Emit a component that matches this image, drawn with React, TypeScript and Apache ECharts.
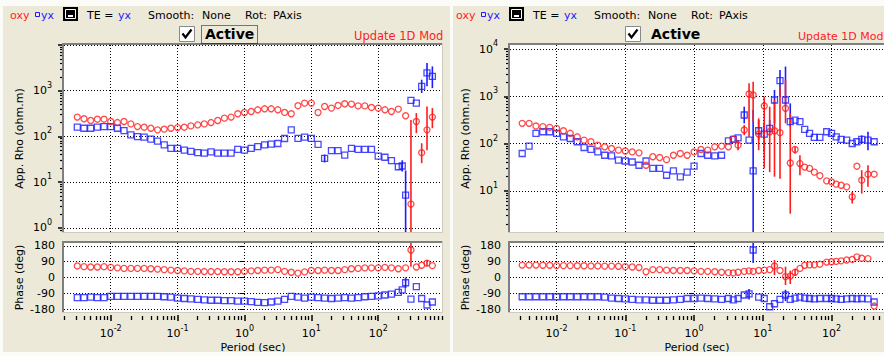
import React, { useEffect, useRef } from "react";
import * as echarts from "echarts";

// ---------------- data ----------------
// Left station
const leftPeriods = [
  0.00316, 0.00398, 0.00501, 0.00631, 0.00794, 0.01, 0.0126, 0.0158, 0.02, 0.0251,
  0.0316, 0.0398, 0.0501, 0.0631, 0.0794, 0.1, 0.126, 0.158, 0.2, 0.251,
  0.316, 0.398, 0.501, 0.631, 0.794, 1, 1.26, 1.58, 2.0, 2.51,
  3.16, 3.98, 5.01, 6.31, 7.94, 10, 12.6, 15.8, 20, 25.1,
  31.6, 39.8, 50.1, 63.1, 79.4, 100, 126, 158, 200, 229,
  257, 309, 372, 447, 537, 646,
];
const leftRhoXY = [
  265, 243, 223, 238, 238, 212, 201, 212, 188, 164,
  159, 151, 139, 144, 151, 156, 159, 170, 179, 188,
  201, 223, 251, 265, 313, 334, 351, 382, 402, 402,
  382, 335, 313, 470, 535, 535, 334, 452, 416, 476,
  518, 510, 465, 465, 430, 416, 382, 351, 396, null,
  283, 3.3, 212, 44, 139, 265,
];
const leftRhoYX = [
  159, 151, 151, 159, 164, 164, 151, 134, 108, 99,
  96, 87, 79, 65, 55, 55, 50, 47, 44, 43,
  46, 43, 43, 43, 52, 50, 55, 60, 65, 68,
  70, 90, 139, 91, 96, 91, 67, 33, 49, 49,
  39, 55, 52, 52, 52, 37, 35, 29.5, 21.7, 22.5,
  5.2, 612, 537, 1245, 2450, 2050,
];
const leftPhaseXY = [
  66, 62, 60, 60, 62, 58, 55, 52, 52, 52,
  52, 50, 48, 45, 42, 40, 38, 35, 35, 34,
  34, 34, 33, 33, 33, 35, 38, 40, 42, 42,
  45, 35, 30, 25, 32, 40, 40, 42, 40, 40,
  45, 50, 52, 55, 55, 55, 58, 55, 50, null,
  55, 157, 60, 70, 82, 68,
];
const leftPhaseYX = [
  -115, -115, -112, -115, -115, -108, -108, -108, -108, -108,
  -108, -108, -108, -110, -112, -118, -120, -122, -125, -128,
  -130, -130, -132, -132, -135, -135, -138, -142, -144, -140,
  -135, -125, -108, -112, -118, -112, -115, -118, -120, -118,
  -115, -118, -115, -110, -108, -105, -100, -95, -85, -71,
  -30, -123, -52, -120, -157, -140,
];
// error bars: [period, low, high]
const leftRhoXYErr = [[309, 0.5, 229], [372, 118, 324], [447, 26, 71], [537, 50, 452], [646, 151, 416]];
const leftRhoYXErr = [[15.8, 27, 40], [229, 17, 30], [257, 0.5, 18], [447, 890, 1740], [537, 1245, 4050], [646, 1140, 3400]];
const leftPhaseXYErr = [[309, 62, 200], [537, 65, 100]];
const leftPhaseYXErr = [[257, -60, 0]];

// Right station
const rightPeriods = [
  0.00316, 0.00398, 0.00501, 0.00631, 0.00794, 0.01, 0.0126, 0.0158, 0.02, 0.0251,
  0.0316, 0.0398, 0.0501, 0.0631, 0.0794, 0.1, 0.126, 0.158, 0.2, 0.251,
  0.316, 0.398, 0.501, 0.631, 0.794, 1, 1.26, 1.58, 2.0, 2.51,
  3.16, 3.72, 4.37, 5.37, 6.31, 7.24, 8.71, 10.5, 12.6, 14.8,
  17.8, 21.4, 25.1, 29.5, 34.7, 40.7, 47.9, 56.2, 67.6, 85.1,
  100, 117, 138, 166, 200, 234, 275, 339, 417,
];
const rightRhoXY = [
  270, 270, 237, 230, 222, 211, 188, 166, 140, 119,
  110, 93, 86, 79, 73, 70, 67, 64, 35, 53,
  51, 46, 57, 62, 57, 67, 75.5, 73, 86, 89,
  86, 126, 93, 195, 1130, 1076, 160, 628, 179, 188,
  171, 561, 39, 75.5, 38, 32, 30, 25, 21, 16.3,
  15.5, 13.9, 13.2, 12.2, 7.5, 33.4, 16.9, 22.6, 22.6,
];
const rightRhoYX = [
  62, 89, 166, 179, 179, 166, 140, 129, 110, 83,
  75.5, 67, 57, 55, 45, 43, 41, 35, 43, 30,
  30, 21.5, 26.6, 19.8, 25, 33.4, 62, 57, 55, 57,
  115, 123, 133, 405, 119, 26.6, 188, 160, 211, 843,
  2167, 843, 292, 317, 292, 201, 166, 136, 136, 179,
  166, 140, 123, 119, 101, 110, 123, 119, 110,
];
const rightPhaseXY = [
  71, 71, 71, 70, 70, 68, 68, 68, 67, 67,
  66, 66, 65, 65, 64, 62, 60, 57, 33, 45,
  45, 42, 40, 40, 40, 38, 35, 35, 33, 30,
  28, 26, 30, 35, 38, 35, 40, 42, 45, 66,
  40, 5, 8, 30, 52, 70, 72, 72, 76, 88,
  90, 92, 95, 100, 103, 118, 110, 108, -163,
];
const rightPhaseYX = [
  -110, -110, -110, -110, -110, -110, -110, -110, -110, -110,
  -110, -110, -112, -118, -120, -122, -125, -128, -128, -130,
  -130, -130, -128, -125, -120, -120, -118, -120, -122, -125,
  -120, -128, -120, -100, -94, 157, -112, -120, -167, -150,
  -125, -100, -125, -118, -112, -118, -120, -122, -120, -120,
  -120, -122, -125, -122, -120, -122, -120, -122, -140,
];
const rightRhoXYErr = [
  [4.37, 73, 119], [5.37, 152, 248], [6.31, 140, 1900], [7.24, 292, 2060], [8.71, 73, 344],
  [10.5, 30, 990], [12.6, 25, 607], [14.8, 20, 843], [17.8, 18, 1615], [21.4, 270, 2240],
  [25.1, 3.3, 440], [29.5, 62, 86], [34.7, 21.5, 57], [200, 5.4, 9.5], [275, 8.8, 27.5], [339, 12.2, 35],
];
const rightRhoYXErr = [
  [5.37, 270, 607], [7.24, 1, 517], [8.71, 119, 317], [10.5, 67, 270], [12.6, 166, 317],
  [14.8, 270, 1374], [17.8, 990, 3650], [21.4, 607, 4300], [25.1, 228, 716], [275, 100, 150], [339, 73, 179],
];
const rightPhaseXYErr = [[14.8, 14, 100], [21.4, -43, 62], [25.1, -37, 39], [29.5, 10, 50]];
const rightPhaseYXErr = [[6.31, -125, -65], [7.24, 83, 210], [21.4, -135, -70]];

// tick labels
const periodDecades = [-2, -1, 0, 1, 2];
const phaseTicks = [-180, -90, 0, 90, 180];
const rhoDecadesLeft = [0, 1, 2, 3, 4];
const rhoDecadesRight = [1, 2, 3, 4];

// ---------------- styling ----------------
const FONT = "DejaVu Sans";
const RED = "#ff1c1c";
const BLUE = "#1c1cff";
const BG = "#ECE9D8";
const DOT = [1, 2];

const panels = [
  {
    left: 64, dx: 0, focus: true, updFont: 11.5, updX: 354,
    periods: leftPeriods, rhoXY: leftRhoXY, rhoYX: leftRhoYX, phaseXY: leftPhaseXY, phaseYX: leftPhaseYX,
    rhoXYErr: leftRhoXYErr, rhoYXErr: leftRhoYXErr, phaseXYErr: leftPhaseXYErr, phaseYXErr: leftPhaseYXErr,
    xMin: 0.002, xMax: 900, rhoMin: 0.81, rhoMax: 10000, rhoDecades: rhoDecadesLeft,
  },
  {
    left: 510, dx: 446, focus: false, updFont: 11, updX: 798,
    periods: rightPeriods, rhoXY: rightRhoXY, rhoYX: rightRhoYX, phaseXY: rightPhaseXY, phaseYX: rightPhaseYX,
    rhoXYErr: rightRhoXYErr, rhoYXErr: rightRhoYXErr, phaseXYErr: rightPhaseXYErr, phaseYXErr: rightPhaseYXErr,
    xMin: 0.0021, xMax: 580, rhoMin: 1.35, rhoMax: 12300, rhoDecades: rhoDecadesRight,
  },
];

const PW = 378;
const RHO_TOP = 45, RHO_H = 187;
const PH_TOP = 243, PH_H = 69;

function minorLogTicks(lo: number, hi: number) {
  const out: number[] = [];
  for (let n = Math.floor(lo); n <= Math.ceil(hi); n++) {
    for (let k = 2; k <= 9; k++) {
      const v = n + Math.log10(k);
      if (v >= lo && v <= hi) out.push(v);
    }
  }
  return out;
}

const powRich = {
  b: { fontSize: 11, fontFamily: FONT, color: "#000", lineHeight: 19 },
  s: { fontSize: 8, fontFamily: FONT, color: "#000", lineHeight: 9, verticalAlign: "top" },
};
const powLabel = (v: number) => `{b|10}{s|${Math.round(Math.log10(v))}}`;

const errSeries = (data: number[][], xi: number, yi: number, color: string) => ({
  type: "custom",
  xAxisIndex: xi,
  yAxisIndex: yi,
  data,
  clip: true,
  silent: true,
  encode: { x: 0, y: [1, 2] },
  renderItem: (_p: any, api: any) => {
    const a = api.coord([api.value(0), api.value(1)]);
    const b = api.coord([api.value(0), api.value(2)]);
    return {
      type: "line",
      shape: { x1: a[0], y1: a[1], x2: b[0], y2: b[1] },
      style: { stroke: color, lineWidth: 1.6 },
    };
  },
});

const markSeries = (periods: number[], vals: (number | null)[], xi: number, yi: number, color: string, sym: string) => ({
  type: "scatter",
  xAxisIndex: xi,
  yAxisIndex: yi,
  data: periods.map((t, i) => [t, vals[i]]).filter((d) => d[1] !== null && d[1] !== undefined),
  symbol: sym,
  symbolSize: 6,
  clip: true,
  silent: true,
  itemStyle: { color: "rgba(0,0,0,0)", borderColor: color, borderWidth: 1.3 },
});

function txt(x: number, y: number, text: string, fill: string, font: string) {
  return { type: "text", z: 60, style: { x, y, text, fill, font, align: "left", verticalAlign: "middle" } };
}

function headerGraphics(dx: number, focus: boolean, updFont: number, updX: number) {
  const f = `11px ${FONT}`;
  const els: any[] = [
    txt(10 + dx, 15, "oxy", RED, f),
    { type: "rect", z: 60, shape: { x: 35.5 + dx, y: 12.5, width: 4, height: 4 }, style: { fill: "none", stroke: BLUE, lineWidth: 1 } },
    txt(41 + dx, 15, "yx", BLUE, f),
    { type: "rect", z: 60, shape: { x: 63 + dx, y: 7, width: 15, height: 14 }, style: { fill: "#000" } },
    { type: "rect", z: 61, shape: { x: 65.5 + dx, y: 9.5, width: 10, height: 9 }, style: { fill: "#000", stroke: "#fff", lineWidth: 1 } },
    { type: "rect", z: 62, shape: { x: 68 + dx, y: 15, width: 5, height: 2 }, style: { fill: "#fff" } },
    txt(87 + dx, 15, "TE =", "#000", f),
    txt(118 + dx, 15, "yx", BLUE, f),
    txt(148 + dx, 15, "Smooth:", "#000", f),
    txt(202 + dx, 15, "None", "#000", f),
    txt(245 + dx, 15, "Rot:", "#000", f),
    txt(273 + dx, 15, "PAxis", "#000", f),
    { type: "rect", z: 60, shape: { x: 179.5 + dx, y: 26.5, width: 15, height: 15 }, style: { fill: "#fff", stroke: "#8a8a8a", lineWidth: 1 } },
    {
      type: "polyline", z: 61,
      shape: { points: [[182.5 + dx, 33.5], [185.5 + dx, 37.5], [191.5 + dx, 29.5]] },
      style: { stroke: "#000", lineWidth: 2.2, fill: "none" },
    },
    txt(205 + dx, 34, "Active", "#000", `bold 14px ${FONT}`),
    txt(updX, 36, "Update 1D Mod", RED, `${updFont}px ${FONT}`),
  ];
  if (focus) {
    els.push({
      type: "rect", z: 61, shape: { x: 201.5 + dx, y: 25.5, width: 56, height: 18 },
      style: { fill: "none", stroke: "#000", lineWidth: 1, lineDash: [1, 1] },
    });
  }
  return els;
}

function borderGraphics(l: number, t: number, w: number, h: number) {
  const dark = "#7f7f7f";
  const light = "#cfcbbf";
  return [
    { type: "line", z: 50, shape: { x1: l - 2, y1: t - 1, x2: l + w, y2: t - 1 }, style: { stroke: dark, lineWidth: 2 } },
    { type: "line", z: 50, shape: { x1: l - 1, y1: t - 2, x2: l - 1, y2: t + h }, style: { stroke: dark, lineWidth: 2 } },
    { type: "line", z: 50, shape: { x1: l + w + 0.5, y1: t - 2, x2: l + w + 0.5, y2: t + h + 1 }, style: { stroke: light, lineWidth: 1 } },
    { type: "line", z: 50, shape: { x1: l - 2, y1: t + h + 0.5, x2: l + w + 1, y2: t + h + 0.5 }, style: { stroke: light, lineWidth: 1 } },
  ];
}

function buildOption() {
  const grid: any[] = [];
  const xAxis: any[] = [];
  const yAxis: any[] = [];
  const series: any[] = [];
  const graphics: any[] = [
    { type: "rect", z: 1, shape: { x: 0, y: 0, width: 884, height: 6 }, style: { fill: "#fbfbf8" } },
    { type: "rect", z: 1, shape: { x: 0, y: 0, width: 3, height: 356 }, style: { fill: "#fbfbf8" } },
    { type: "rect", z: 1, shape: { x: 450, y: 0, width: 3, height: 356 }, style: { fill: "#fbfbf8" } },
    { type: "rect", z: 1, shape: { x: 0, y: 352, width: 884, height: 4 }, style: { fill: "#fbfbf8" } },
  ];
  const nameStyle = { fontFamily: FONT, fontSize: 11, color: "#000" };
  const dotted = { show: true, lineStyle: { color: "#000", type: DOT, width: 1 } };

  panels.forEach((p) => {
    const L = p.left;
    const gRho = grid.length;
    grid.push({ left: L, top: RHO_TOP, width: PW, height: RHO_H, show: true, backgroundColor: "#fff", borderWidth: 0 });
    const gPh = grid.length;
    grid.push({ left: L, top: PH_TOP, width: PW, height: PH_H, show: true, backgroundColor: "#fff", borderWidth: 0 });
    graphics.push(...borderGraphics(L, RHO_TOP, PW, RHO_H), ...borderGraphics(L, PH_TOP, PW, PH_H));
    graphics.push(...headerGraphics(p.dx, p.focus, p.updFont, p.updX));

    const lx0 = Math.log10(p.xMin);
    const lx1 = Math.log10(p.xMax);
    const ly0 = Math.log10(p.rhoMin);
    const ly1 = Math.log10(p.rhoMax);
    const hidden = { axisLine: { show: false }, axisTick: { show: false }, splitLine: { show: false } };

    // data axes
    const xRho = xAxis.length;
    xAxis.push({ type: "log", logBase: 10, gridIndex: gRho, min: p.xMin, max: p.xMax, position: "bottom", ...hidden, axisLabel: { show: false } });
    const xPh = xAxis.length;
    xAxis.push({
      type: "log", logBase: 10, gridIndex: gPh, min: p.xMin, max: p.xMax, position: "bottom", ...hidden,
      axisLabel: { show: true, formatter: powLabel, rich: powRich, margin: 12, showMinLabel: false, showMaxLabel: false },
      name: "Period (sec)", nameLocation: "middle", nameGap: 30, nameTextStyle: nameStyle,
    });
    // decoration axes (log10 space): grid lines and ticks
    xAxis.push({
      type: "value", gridIndex: gRho, min: lx0, max: lx1, position: "bottom",
      axisLine: { show: false }, axisLabel: { show: false },
      axisTick: { show: false, customValues: periodDecades }, splitLine: dotted,
    });
    xAxis.push({
      type: "value", gridIndex: gPh, min: lx0, max: lx1, position: "bottom", offset: 3,
      axisLine: { show: false }, axisLabel: { show: false },
      axisTick: { show: true, customValues: periodDecades, length: 6, lineStyle: { color: "#000", width: 1.5 } },
      splitLine: dotted,
    });
    xAxis.push({
      type: "value", gridIndex: gPh, min: lx0, max: lx1, position: "bottom", offset: 4,
      axisLine: { show: false }, axisLabel: { show: false }, splitLine: { show: false },
      axisTick: { show: true, customValues: minorLogTicks(lx0, lx1), length: 4, lineStyle: { color: "#000", width: 1.3 } },
    });

    const yRho = yAxis.length;
    yAxis.push({
      type: "log", logBase: 10, gridIndex: gRho, min: p.rhoMin, max: p.rhoMax, position: "left", ...hidden,
      axisLabel: { show: true, formatter: powLabel, rich: powRich, margin: 12, showMinLabel: false, showMaxLabel: false },
      name: "App. Rho (ohm.m)", nameLocation: "middle", nameGap: 39, nameTextStyle: nameStyle,
    });
    const yPh = yAxis.length;
    yAxis.push({
      type: "value", gridIndex: gPh, min: -197, max: 197, position: "left", offset: 6,
      axisLine: { show: false },
      axisTick: { show: true, customValues: phaseTicks, length: 5, lineStyle: { color: "#000" } },
      axisLabel: { show: true, customValues: phaseTicks, margin: 3, fontFamily: FONT, fontSize: 11, color: "#000" },
      splitLine: dotted,
      name: "Phase (deg)", nameLocation: "middle", nameGap: 33, nameTextStyle: nameStyle,
    });
    yAxis.push({
      type: "value", gridIndex: gRho, min: ly0, max: ly1, position: "left",
      axisLine: { show: false }, axisLabel: { show: false },
      axisTick: { show: true, customValues: p.rhoDecades, length: 6, lineStyle: { color: "#000", width: 1.5 } },
      splitLine: dotted,
    });
    yAxis.push({
      type: "value", gridIndex: gRho, min: ly0, max: ly1, position: "left",
      axisLine: { show: false }, axisLabel: { show: false }, splitLine: { show: false },
      axisTick: { show: true, customValues: minorLogTicks(ly0, ly1), length: 4, lineStyle: { color: "#000", width: 1.2 } },
    });

    series.push(
      errSeries(p.rhoYXErr, xRho, yRho, BLUE),
      markSeries(p.periods, p.rhoYX, xRho, yRho, BLUE, "rect"),
      errSeries(p.rhoXYErr, xRho, yRho, RED),
      markSeries(p.periods, p.rhoXY, xRho, yRho, RED, "circle"),
      errSeries(p.phaseYXErr, xPh, yPh, BLUE),
      markSeries(p.periods, p.phaseYX, xPh, yPh, BLUE, "rect"),
      errSeries(p.phaseXYErr, xPh, yPh, RED),
      markSeries(p.periods, p.phaseXY, xPh, yPh, RED, "circle"),
    );
  });

  return {
    animation: false,
    backgroundColor: BG,
    textStyle: { fontFamily: FONT },
    grid,
    xAxis,
    yAxis,
    series,
    graphic: { elements: graphics },
  };
}

export default function App() {
  const ref = useRef<HTMLDivElement>(null);
  useEffect(() => {
    if (!ref.current) return;
    const chart = echarts.init(ref.current, undefined, { renderer: "svg" });
    chart.setOption(buildOption() as any);
    return () => chart.dispose();
  }, []);
  return (
    <div
      ref={ref}
      style={{ position: "fixed", left: 0, top: 0, width: 884, height: 356, background: BG }}
    />
  );
}
